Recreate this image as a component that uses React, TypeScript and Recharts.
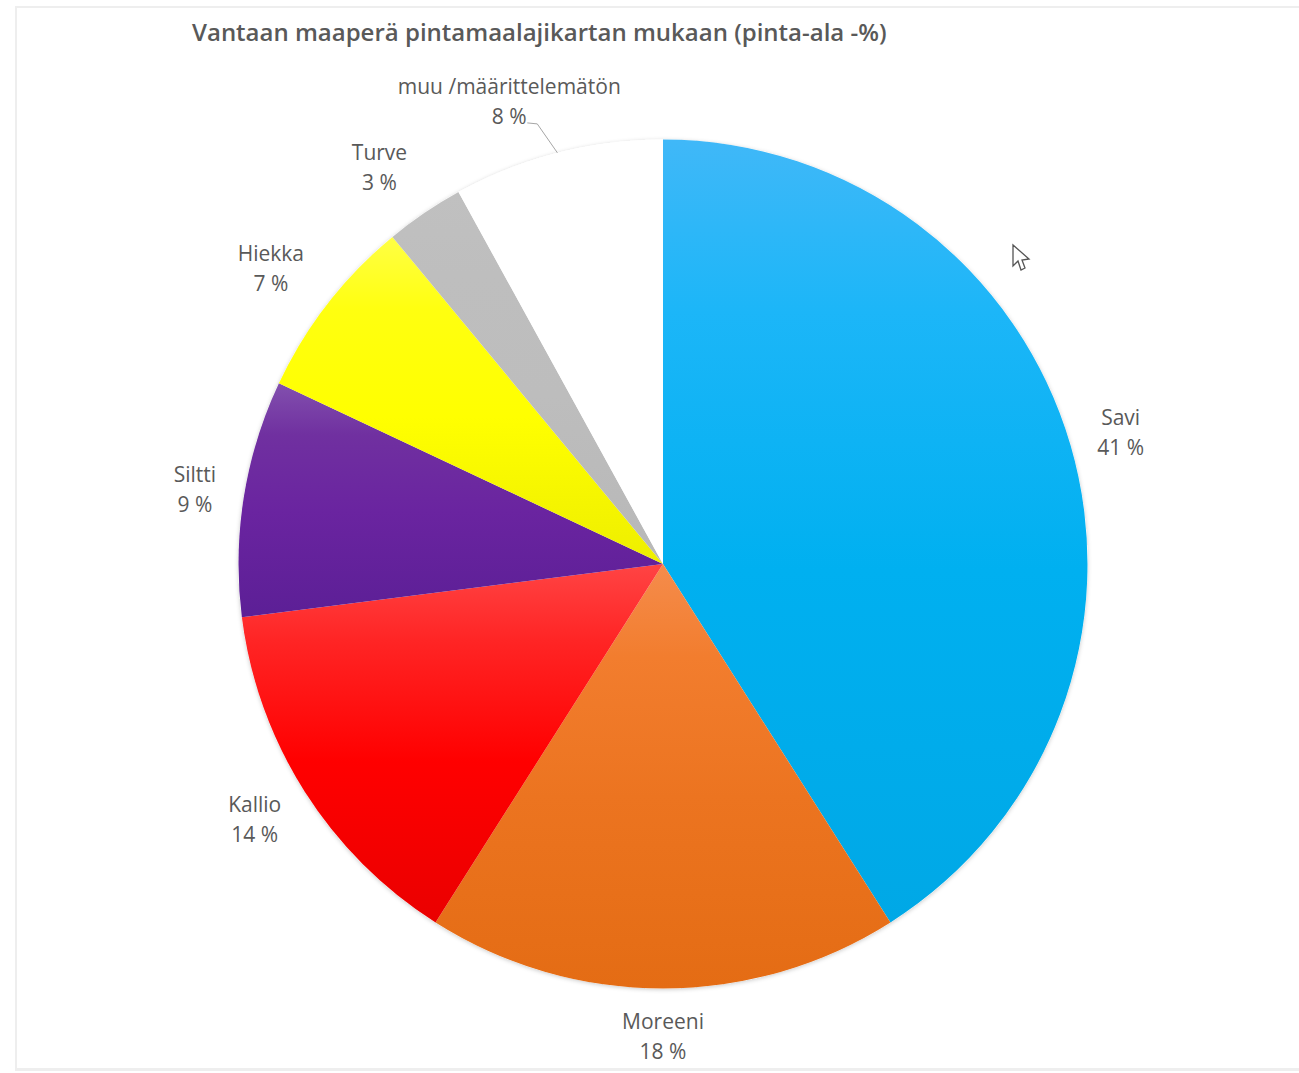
import { PieChart, Pie, Cell } from 'recharts';

const categories = ['Savi', 'Moreeni', 'Kallio', 'Siltti', 'Hiekka', 'Turve', 'muu /määrittelemätön'];
const shares = [41, 18, 14, 9, 7, 3, 8];
const wholePie = [100];
const gradients = [
  ['#40b8f8', '#1cb6f8', '#00b0f0', '#00a8e6'],
  ['#f58c4c', '#f27d2e', '#ec7420', '#e46c14'],
  ['#ff4444', '#ff2424', '#ff0000', '#ea0000'],
  ['#8250ae', '#7030a0', '#6a24a0', '#5c1f96'],
  ['#ffff44', '#ffff10', '#ffff00', '#eeee00'],
  ['#c0c0c0', '#bebebe', '#bdbdbd', '#b8b8b8'],
  ['#ffffff', '#ffffff', '#ffffff', '#ffffff'],
];

const data = categories.map((name, i) => ({ name, value: shares[i] }));
const backing = wholePie.map((value) => ({ name: 'tausta', value }));

const CX = 663;
const CY = 564;
const R = 424.5;
const FONT = '"Open Sans", sans-serif';
const RAD = Math.PI / 180;

// distance of each label centre from the pie centre, the last one was dragged by hand
const labelRadius = [476, 473, 482, 474, 491, 487, 487];
const labelAngleShift = [-0.25, 0, -0.3, 0, 0.8, 1.4, 4];

function renderLabel(props: any) {
  const { midAngle, index, name, value } = props;
  const a = (midAngle + labelAngleShift[index]) * RAD;
  const x = CX + labelRadius[index] * Math.cos(a);
  const y = CY - labelRadius[index] * Math.sin(a);
  const isLast = index === categories.length - 1;
  const m = midAngle * RAD;
  const ex = CX + R * Math.cos(m);
  const ey = CY - R * Math.sin(m);
  return (
    <g>
      {isLast && (
        <path
          d={`M${x + 18},${y + 21} L${x + 28},${y + 22} L${ex},${ey}`}
          fill="none"
          stroke="#a6a6a6"
          strokeWidth={1}
        />
      )}
      <text x={x} y={y - 8} textAnchor="middle" fontFamily={FONT} fontSize={21} fill="#595959">
        {name}
      </text>
      <text x={x} y={y + 22} textAnchor="middle" fontFamily={FONT} fontSize={21} fill="#595959">
        {value} %
      </text>
    </g>
  );
}

export default function App() {
  return (
    <div style={{ position: 'absolute', left: 0, top: 0, width: 1299, height: 1073, background: '#fff' }}>
      <div
        style={{
          position: 'absolute',
          left: 15,
          top: 6,
          width: 1284,
          height: 1065,
          borderLeft: '2px solid #eeeeee',
          borderTop: '2px solid #eeeeee',
          borderBottom: '3px solid #eeeeee',
          boxSizing: 'border-box',
        }}
      />
      <div style={{ position: 'absolute', left: 0, top: 0 }}>
        <PieChart width={1299} height={1073} margin={{ top: 0, right: 0, bottom: 0, left: 0 }}>
          <defs>
            {gradients.map((stops, i) => (
              <linearGradient key={i} id={`slice${i}`} x1="0" y1="0" x2="0" y2="1">
                <stop offset="0%" stopColor={stops[0]} />
                <stop offset="22%" stopColor={stops[1]} />
                <stop offset="55%" stopColor={stops[2]} />
                <stop offset="100%" stopColor={stops[3]} />
              </linearGradient>
            ))}
            <filter id="pieShadow" x="-5%" y="-5%" width="110%" height="110%">
              <feDropShadow dx="0" dy="1" stdDeviation="2" floodColor="#000" floodOpacity="0.22" />
            </filter>
          </defs>
          <text x={192} y={41} fontFamily={FONT} fontWeight={600} fontSize={24} fill="#595959">
            Vantaan maaperä pintamaalajikartan mukaan (pinta-ala -%)
          </text>
          {/* one full disc behind the slices carries the soft shadow, so slice edges stay clean */}
          <Pie
            data={backing}
            dataKey="value"
            cx={CX}
            cy={CY}
            outerRadius={R}
            startAngle={90}
            endAngle={-270}
            fill="#fff"
            stroke="none"
            isAnimationActive={false}
            style={{ filter: 'url(#pieShadow)' }}
          />
          <Pie
            data={data}
            dataKey="value"
            nameKey="name"
            cx={CX}
            cy={CY}
            outerRadius={R}
            startAngle={90}
            endAngle={-270}
            stroke="none"
            label={renderLabel}
            labelLine={false}
            isAnimationActive={false}
          >
            {data.map((d, i) => (
              <Cell key={d.name} fill={`url(#slice${i})`} stroke="none" />
            ))}
          </Pie>
          <path
            d="M1013,245 L1013,266 L1018,261 L1021,270 L1025,268 L1022,260 L1029,259 Z"
            fill="#fff"
            stroke="#555"
            strokeWidth={1.3}
          />
        </PieChart>
      </div>
    </div>
  );
}
